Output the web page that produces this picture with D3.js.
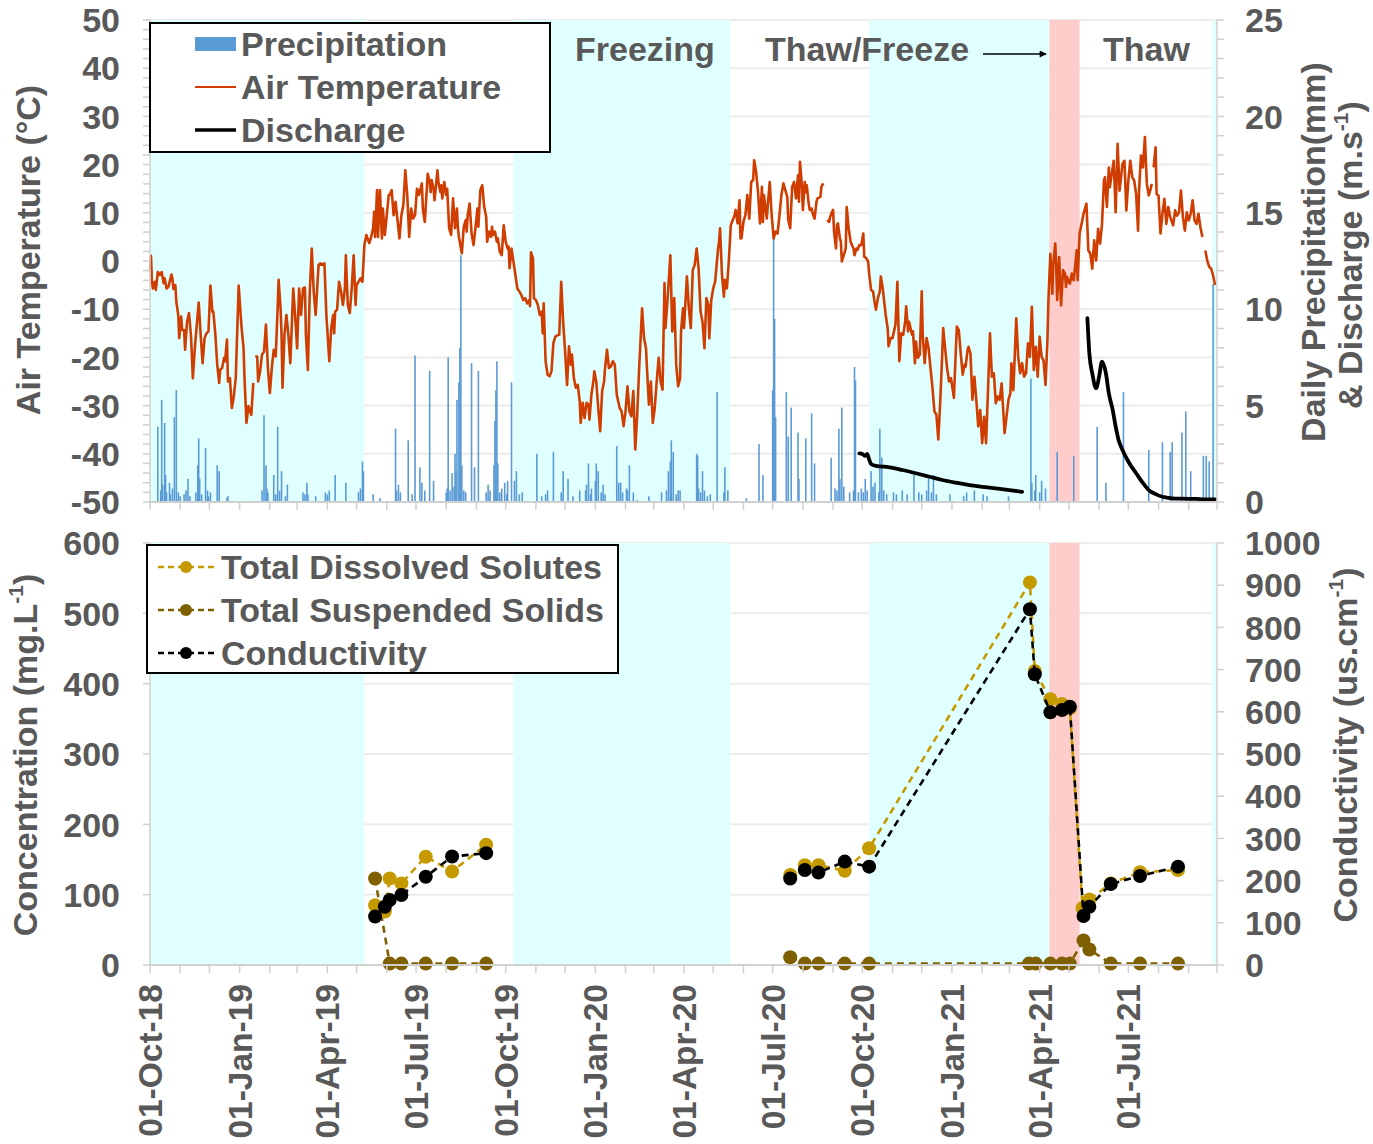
<!DOCTYPE html>
<html>
<head>
<meta charset="utf-8">
<script src="https://cdn.jsdelivr.net/npm/d3@7"></script>
<style>
  body { margin: 0; background: #ffffff; }
  svg text { font-family: "Liberation Sans", Arial, sans-serif; font-weight: bold; fill: #595959; }
</style>
</head>
<body>
<svg id="chart" width="1373" height="1144"></svg>
<script>
// ---- time frame (day offsets are counted from startDate) ----
const startDate = "2018-10-01";
const endDate = "2021-09-30";

// seasonal phases shaded behind both panels
const seasonBands = [
  { from: "2018-10-01", to: "2019-05-09", phase: "freezing" },
  { from: "2019-10-09", to: "2020-05-18", phase: "freezing" },
  { from: "2020-10-08", to: "2021-04-11", phase: "freezing" },
  { from: "2021-04-11", to: "2021-05-12", phase: "transition" },
  { from: "2021-09-25", to: "2021-09-30", phase: "freezing" }
];

// daily air temperature (°C): [day, value]; null marks a logger gap
const airTemperature = [
[0,-2.2],[1,1.1],[2,-4.3],[3,-5.7],[5,-4.3],[6,-6.0],[8,-2.3],[10,-2.9],[12,-2.3],[14,-4.6],[15,-3.6],[17,-5.7],[19,-5.3],[22,-2.8],[23,-3.6],[24,-5.8],[26,-5.0],[27,-8.4],[29,-11.2],[30,-16.0],[32,-11.5],[33,-14.3],[35,-14.3],[36,-18.4],[38,-12.6],[40,-10.8],[42,-15.3],[44,-24.3],[46,-18.1],[50,-8.6],[52,-15.3],[54,-21.2],[56,-16.0],[58,-15.0],[60,-14.6],[62,-5.1],[64,-10.5],[65,-10.5],[67,-15.0],[69,-21.5],[71,-25.3],[72,-22.6],[74,-22.2],[76,-20.1],[77,-20.8],[79,-16.3],[80,-25.0],[82,-24.3],[84,-30.5],[86,-28.1],[88,-24.3],[91,-5.1],[94,-13.9],[96,-18.1],[97,-24.3],[99,-33.6],[101,-30.1],[104,-31.9],[106,-25.3],[107,null],[108,-19.8],[110,-19.8],[111,-25.0],[113,-22.9],[115,-19.4],[117,-18.8],[119,-13.2],[121,-22.2],[123,-27.4],[125,-22.2],[127,-18.4],[129,-19.8],[131,-9.8],[132,-3.9],[134,-9.8],[135,-15.3],[136,-26.3],[138,-15.3],[140,-11.2],[142,-15.3],[144,-21.2],[147,-5.7],[149,-11.5],[151,-18.1],[153,-5.7],[155,-11.2],[157,-5.7],[159,-5.5],[160,-15.3],[162,-22.6],[164,-6.3],[166,2.6],[168,-6.3],[170,-11.2],[173,-0.8],[175,-0.5],[177,-0.8],[179,-0.5],[181,-11.2],[184,-20.8],[186,-13.9],[188,-11.2],[189,-15.0],[190,-10.5],[192,-10.1],[194,-4.3],[196,-6.3],[198,-9.1],[200,-5.7],[201,1.2],[203,-9.1],[205,-10.8],[207,-5.7],[209,1.2],[211,-9.1],[212,-5.0],[214,-4.3],[216,-3.6],[218,-4.3],[220,3.3],[222,5.4],[225,3.7],[227,5.0],[229,6.8],[230,10.2],[231,5.0],[233,14.7],[234,5.0],[236,14.7],[238,4.7],[239,10.9],[241,5.4],[243,9.5],[245,13.7],[246,13.7],[248,14.7],[250,9.5],[252,12.3],[254,8.5],[256,4.7],[258,9.5],[260,11.6],[262,18.8],[264,13.7],[266,5.0],[268,10.9],[270,8.8],[272,9.5],[274,15.0],[276,13.7],[279,16.1],[280,10.9],
[282,8.1],[285,18.1],[287,16.4],[288,14.3],[289,16.8],[291,15.0],[292,12.6],[295,18.8],[296,16.4],[298,14.3],[299,15.7],[300,13.0],[302,16.4],[304,13.7],[305,15.0],[307,6.8],[309,5.4],[311,13.0],[313,6.8],[315,10.9],[316,6.8],[317,5.0],[320,1.6],[322,7.1],[324,8.5],[325,6.1],[326,9.5],[328,11.9],[330,5.7],[332,3.3],[334,6.8],[336,10.9],[337,7.1],[339,14.7],[341,15.7],[343,11.2],[345,9.2],[346,4.0],[348,6.1],[350,5.0],[351,7.1],[352,5.4],[354,6.1],[356,4.0],[357,4.7],[359,1.9],[361,1.2],[363,7.4],[365,4.0],[367,2.6],[368,3.0],[369,-1.5],[371,2.6],[373,-0.1],[375,-2.9],[377,-5.7],[379,-6.3],[381,-7.0],[383,-8.1],[385,-7.7],[387,-8.8],[389,-8.1],[390,-9.4],[391,1.8],[393,0.6],[394,-7.7],[396,-8.1],[398,-9.1],[400,-11.2],[402,-10.5],[403,-15.0],[404,-8.8],[406,-20.8],[408,-23.6],[410,-23.9],[412,-22.9],[414,-17.0],[416,-15.7],[419,-15.3],[420,-15.3],[422,-4.3],[424,-12.6],[426,-18.8],[428,-25.7],[430,-17.7],[432,-21.5],[433,-19.4],[435,-24.3],[437,-26.3],[439,-25.7],[441,-29.1],[442,-33.6],[444,-29.4],[446,-32.6],[448,-29.4],[450,-29.8],[451,-32.9],[453,-27.7],[455,-25.0],[456,-22.9],[458,-25.0],[460,-30.5],[462,-35.3],[464,-27.0],[466,-25.0],[467,-22.2],[469,-18.4],[471,-22.2],[473,-21.9],[475,-20.8],[477,-21.5],[479,-27.7],[482,-30.5],[484,-31.2],[486,-34.3],[488,-31.2],[490,-26.0],[492,-31.2],[494,-32.2],[496,-27.0],[498,-39.1],[500,-31.9],[502,-22.2],[505,-9.8],[507,-16.0],[509,-18.1],[510,-22.2],[512,-29.8],[514,-25.0],[516,-33.6],[518,-30.5],[520,-25.0],[522,-20.1],[524,-25.0],[526,-26.7],[528,-4.6],[529,-13.9],[531,-8.4],[534,1.2],[536,-14.6],[538,-7.7],[540,-21.5],[542,-26.0],[544,-24.3],[545,-14.6],[547,-9.8],[548,-13.9],[551,-3.2],[553,-9.8],[555,-13.9],[557,-1.9],[559,-0.8],
[561,2.6],[563,-1.5],[565,-10.5],[567,-12.6],[569,-18.1],[571,-7.7],[573,-9.1],[574,-16.0],[576,-8.1],[578,-5.7],[580,-4.3],[581,-1.9],[583,2.6],[584,4.0],[585,6.8],[587,-2.9],[589,-7.4],[590,-3.9],[592,-5.7],[594,-0.1],[596,7.4],[598,8.5],[600,9.5],[601,10.6],[603,7.8],[605,12.6],[606,4.7],[607,4.7],[609,8.1],[611,9.5],[613,13.7],[615,8.8],[617,16.4],[619,16.8],[620,20.9],[622,18.5],[624,14.3],[626,7.8],[628,15.4],[629,8.1],[630,13.7],[633,8.8],[634,11.6],[636,16.4],[638,9.5],[640,4.7],[642,6.1],[644,5.7],[646,9.5],[648,13.7],[650,16.1],[652,14.7],[654,13.3],[655,8.5],[657,6.8],[659,15.4],[661,16.4],[663,13.0],[665,17.8],[666,12.3],[667,20.6],[669,15.7],[670,10.6],[672,16.4],[673,14.3],[674,15.7],[676,11.9],[677,10.6],[679,10.9],[680,9.9],[682,8.8],[684,12.3],[685,13.0],[688,13.3],[689,15.4],[691,16.1],[693,null],[695,8.5],[697,8.1],[698,9.2],[700,10.2],[701,10.6],[702,6.1],[704,2.6],[705,7.4],[706,7.8],[708,4.7],[709,4.0],[710,-0.1],[713,1.9],[714,2.6],[715,11.2],[717,6.8],[719,4.0],[721,3.0],[722,2.6],[723,1.2],[725,2.6],[726,2.3],[728,3.3],[730,3.3],[732,5.7],[733,0.9],[735,0.6],[737,-0.1],[738,-2.6],[740,-6.0],[742,-6.3],[744,-9.1],[745,-10.1],[747,-7.7],[749,-6.3],[750,-3.2],[752,-5.7],[754,-9.4],[755,-11.2],[757,-13.9],[758,-17.7],[760,-16.0],[762,-16.0],[765,-13.2],[767,-4.3],[769,-20.8],[771,-15.0],[773,-15.3],[775,-12.6],[776,-9.4],[778,-14.6],[779,-12.6],[782,-15.3],[783,-14.6],[785,-21.2],[786,-16.7],[788,-20.1],[790,-19.4],[792,-6.3],[793,-15.3],[795,-21.2],[797,-16.0],[799,-18.1],[801,-22.2],[803,-26.3],[805,-31.2],[807,-31.9],[809,-37.0],[811,-29.1],[813,-19.4],[814,-13.9],[816,-18.1],[818,-22.2],[820,-25.0],[822,-24.3],[825,-28.4],[827,-18.4],[828,-13.6],[830,-14.3],[832,-19.1],[834,-23.6],[836,-21.5],
[837,-21.9],[839,-18.5],[840,-17.8],[842,-19.2],[844,-28.8],[846,-24.0],[848,-28.8],[850,-34.3],[852,-30.9],[854,-37.8],[856,-32.3],[858,-37.8],[860,-26.8],[862,-15.0],[864,-24.0],[866,-23.3],[868,-29.5],[870,-28.1],[872,-28.8],[874,-25.4],[877,-35.7],[879,-32.3],[881,-28.8],[883,-27.4],[884,-21.2],[886,-26.8],[889,-11.9],[891,-19.9],[893,-23.3],[895,-21.2],[897,-24.0],[899,-23.3],[901,-17.1],[903,-19.9],[905,-9.5],[907,-22.6],[909,-17.8],[911,-24.0],[913,-15.7],[915,-19.9],[917,-20.6],[919,-25.7],[921,-16.4],[922,-8.1],[924,1.5],[926,-6.8],[927,-0.6],[929,3.6],[930,-1.2],[931,-8.1],[933,0.8],[935,-9.2],[937,-1.9],[939,-2.6],[940,-5.4],[941,-3.3],[944,-4.7],[946,-2.6],[948,-4.0],[949,-1.9],[951,2.2],[952,-4.0],[954,5.7],[956,7.7],[958,9.8],[961,11.9],[963,2.2],[965,1.5],[967,-1.6],[969,4.3],[971,0.1],[973,6.7],[975,3.6],[977,7.7],[979,16.7],[980,17.4],[982,11.2],[984,19.4],[985,15.3],[987,18.1],[989,20.8],[991,10.1],[993,24.3],[995,14.6],[998,20.1],[1000,20.8],[1002,10.5],[1004,16.7],[1006,20.8],[1008,17.4],[1010,16.7],[1012,13.9],[1014,6.3],[1015,14.6],[1017,21.9],[1019,19.4],[1021,25.7],[1023,16.0],[1025,13.6],[1027,15.0],[1028,16.0],[1029,null],[1030,19.4],[1032,23.6],[1033,13.9],[1035,13.6],[1037,5.7],[1039,9.8],[1041,12.9],[1043,7.7],[1045,11.2],[1047,9.1],[1050,7.4],[1052,10.5],[1054,9.4],[1056,10.1],[1058,14.6],[1060,9.1],[1062,6.3],[1064,10.1],[1066,8.4],[1068,9.8],[1070,12.6],[1072,8.4],[1074,7.7],[1076,9.8],[1078,7.0],[1080,5.0],[1082,null],[1083,2.2],[1085,0.1],[1087,-1.2],[1089,-1.6],[1091,-3.0],[1093,-5.0]
];

// daily precipitation (mm): [day, value]
const precipitation = [
[8,3.9],[12,5.3],[15,4.1],[16,1.4],[20,1.0],[25,4.4],[27,5.8],[29,0.5],[39,1.2],[49,1.9],[50,3.3],[51,1.2],[57,2.8],[59,0.6],[69,1.9],[71,1.6],[79,0.2],[117,4.5],[119,1.9],[120,0.7],[127,1.4],[131,3.9],[135,1.6],[141,0.9],[161,1.0],[162,0.4],[180,0.5],[190,1.4],[201,1.0],[218,2.1],[219,1.6],[236,0.2],[252,3.8],[255,0.9],[265,3.2],[272,7.6],[277,1.8],[279,1.0],[287,6.8],[291,1.1],[305,0.7],[306,7.5],[310,1.5],[313,2.5],[314,1.6],[315,5.3],[317,6.2],[318,8.0],[319,12.8],[320,1.9],[330,7.2],[333,1.8],[337,6.8],[347,0.9],[353,1.9],[354,4.2],[355,5.8],[356,7.3],[357,2.0],[364,1.0],[367,1.1],[371,6.2],[374,1.1],[376,1.6],[397,2.5],[408,0.6],[414,2.6],[424,1.6],[429,1.2],[441,0.6],[448,0.9],[450,2.0],[457,1.1],[458,2.0],[460,1.6],[465,0.9],[479,2.9],[481,1.0],[483,1.0],[489,0.7],[492,1.9],[500,0.1],[525,0.5],[532,1.6],[534,2.1],[535,3.2],[537,2.6],[544,0.6],[561,2.5],[562,2.4],[567,1.6],[572,0.3],[582,5.7],[590,1.8],[612,0.2],[625,3.0],[629,1.4],[639,5.8],[640,13.8],[641,9.5],[642,4.4],[653,5.7],[655,3.4],[658,4.9],[665,3.6],[666,1.2],[673,3.3],[679,4.6],[682,2.0],[699,2.3],[707,3.8],[708,1.2],[710,4.9],[723,7.0],[724,6.3],[727,0.5],[734,1.2],[740,1.6],[744,1.0],[749,3.8],[751,2.3],[784,1.4],[799,1.4],[804,1.4],[846,0.6],[904,6.4],[905,1.0],[909,1.4],[915,1.1],[931,2.6],[948,2.4],[972,3.9],[981,1.0],[999,5.7],[1025,2.7],[1039,3.1],[1047,2.6],[1049,3.1],[1059,3.6],[1063,4.7],[1068,1.6],[1081,2.4],[1084,2.4],[1087,2.1],[1091,11.3],
// light-rain days
[11,0.6],[13,0.9],[17,0.5],[21,0.4],[23,0.7],[31,0.3],[35,0.4],[37,0.6],[41,0.3],[47,0.5],[53,0.4],[60,0.3],[62,0.5],[80,0.3],[115,0.6],[121,0.5],[129,0.4],[133,0.6],[139,0.3],[157,0.5],[159,0.4],[170,0.3],[182,0.4],[184,0.6],[214,0.5],[216,0.7],[229,0.4],[253,0.6],[257,0.5],[269,0.4],[282,0.6],[304,0.5],[308,0.6],[312,0.8],[322,0.6],[324,0.5],[345,0.5],[349,0.6],[359,0.5],[361,0.7],[366,0.4],[379,0.4],[382,0.5],[402,0.3],[406,0.4],[422,0.5],[434,0.3],[447,0.6],[452,0.4],[453,0.7],[463,0.5],[467,0.4],[485,0.5],[490,0.6],[496,0.5],[512,0.3],[530,0.6],[540,0.4],[542,0.6],[563,0.7],[565,0.5],[569,0.6],[575,0.4],[589,0.5],[593,0.6],[703,0.7],[705,0.6],[712,0.8],[718,0.5],[722,0.6],[730,0.7],[732,0.5],[736,0.6],[742,0.8],[748,0.5],[753,0.6],[756,0.4],[763,0.5],[766,0.4],[772,0.6],[777,0.4],[789,0.5],[792,0.4],[797,0.6],[802,0.5],[807,0.4],[821,0.4],[835,0.3],[838,0.5],[855,0.4],[859,0.3],[881,0.3],[908,0.6],[913,0.5],[919,0.7]
];

// stream discharge: [day, value]; null separates the two gauged periods
const discharge = [
[728,2.52],[731,2.49],[734,2.39],[736,2.49],[738,2.21],[740,1.97],[745,1.87],[759,1.80],[772,1.66],[786,1.49],[800,1.31],[813,1.14],[827,1.00],[841,0.88],[854,0.79],[868,0.71],[882,0.62],[895,0.53],
[930,null],
[962,9.53],[964,7.71],[967,6.67],[971,5.90],[974,6.50],[977,7.28],[981,6.67],[984,5.64],[988,4.77],[991,3.91],[994,3.22],[998,2.70],[1005,2.01],[1012,1.49],[1018,1.05],[1025,0.62],[1032,0.41],[1039,0.27],[1049,0.19],[1059,0.17],[1073,0.16],[1084,0.14],[1093,0.14]
];

// water samples: [day, value]; null separates the 2019 and 2020-21 campaigns
const totalDissolvedSolutes = [
[231,85],[241,76],[246,123],[258,116],[283,154],[310,133],[345,171],[500,null],
[657,128],[672,142],[686,142],[713,134],[738,166],[903,544],[908,418],[924,378],[936,371],[944,365],[957,81],[964,93],[986,116],[1016,132],[1055,135]
];
const totalSuspendedSolids = [
[231,123],[246,2],[258,2],[283,2],[310,2],[345,2],[500,null],
[657,11],[672,2],[686,2],[713,2],[738,2],[902,2],[909,2],[924,2],[936,2],[944,2],[958,35],[964,22],[986,2],[1016,2],[1055,2]
];
const conductivity = [
[231,115],[241,138],[246,154],[258,166],[283,209],[310,257],[345,265],[500,null],
[657,205],[672,225],[686,219],[713,245],[738,233],[903,843],[908,689],[924,599],[936,604],[944,612],[958,116],[964,138],[986,192],[1016,211],[1055,233]
];

// axis ticks
const tempTicks = [-50, -40, -30, -20, -10, 0, 10, 20, 30, 40, 50];
const precipTicks = [0, 5, 10, 15, 20, 25];
const concTicks = [0, 100, 200, 300, 400, 500, 600];
const condTicks = [0, 100, 200, 300, 400, 500, 600, 700, 800, 900, 1000];

// ---------------------------------------------------------------------
const parse = d3.utcParse("%Y-%m-%d");
const t0 = parse(startDate);
const toDate = d => d3.utcDay.offset(t0, d);
const FS = 34;

const COLORS = {
  text: "#595959", grid: "#ececec", axis: "#d0d0d0",
  freezing: "#e0ffff", transition: "#ffcccc",
  precip: "#5b9bd5", temp: "#cf3d00", discharge: "#000000",
  tds: "#c49a00", tss: "#7f6000", cond: "#000000"
};

const svg = d3.select("#chart");
const x = d3.scaleUtc().domain([parse(startDate), parse(endDate)]).range([150, 1217]);
const yTemp = d3.scaleLinear().domain([-50, 50]).range([502, 20]);
const yPrecip = d3.scaleLinear().domain([0, 25]).range([502, 20]);
const yConc = d3.scaleLinear().domain([0, 600]).range([965, 543]);
const yCond = d3.scaleLinear().domain([0, 1000]).range([965, 543]);

const [xL, xR] = x.range();

function panelBackground(g, yScale, ticks) {
  // horizontal grid first, the season shading sits over it
  g.append("g").selectAll("line").data(ticks.slice(1)).join("line")
    .attr("x1", xL).attr("x2", xR)
    .attr("y1", d => yScale(d)).attr("y2", d => yScale(d))
    .attr("stroke", COLORS.grid).attr("stroke-width", 2);
  const [yb, yt] = yScale.range();
  g.append("g").selectAll("rect").data(seasonBands).join("rect")
    .attr("x", d => x(parse(d.from)))
    .attr("width", d => x(parse(d.to)) - x(parse(d.from)))
    .attr("y", yt).attr("height", yb - yt)
    .attr("fill", d => COLORS[d.phase]);
}

function timeAxis(g, yPos) {
  const months = d3.utcMonth.range(parse(startDate), d3.utcDay.offset(parse(endDate), 1));
  g.append("line").attr("x1", xL).attr("x2", xR).attr("y1", yPos).attr("y2", yPos)
    .attr("stroke", COLORS.axis).attr("stroke-width", 2);
  g.append("g").selectAll("line").data(months.concat([parse(endDate)])).join("line")
    .attr("x1", d => x(d)).attr("x2", d => x(d))
    .attr("y1", yPos).attr("y2", yPos + 8)
    .attr("stroke", COLORS.axis).attr("stroke-width", 1.5);
}

function valueAxis(g, scale, ticks, xPos, side, minorStep) {
  const [yb, yt] = scale.range();
  const dir = side === "left" ? -1 : 1;
  g.append("line").attr("x1", xPos).attr("x2", xPos).attr("y1", yb).attr("y2", yt)
    .attr("stroke", COLORS.axis).attr("stroke-width", 1.5);
  const d0 = scale.domain()[0], d1 = scale.domain()[1];
  const minors = d3.range(d0, d1 + minorStep / 2, minorStep);
  g.append("g").selectAll("line").data(minors).join("line")
    .attr("x1", xPos).attr("x2", xPos + dir * 7)
    .attr("y1", d => scale(d)).attr("y2", d => scale(d))
    .attr("stroke", COLORS.axis).attr("stroke-width", 1.5);
  g.append("g").selectAll("text").data(ticks).join("text")
    .attr("x", side === "left" ? xPos - 30 : xPos + 28)
    .attr("y", d => scale(d)).attr("dy", "0.36em")
    .attr("text-anchor", side === "left" ? "end" : "start")
    .attr("font-size", FS)
    .text(d => d);
}

function rotatedTitle(g, cx, cy, parts) {
  const t = g.append("text")
    .attr("transform", `translate(${cx},${cy}) rotate(-90)`)
    .attr("text-anchor", "middle").attr("dy", "0.36em")
    .attr("font-size", FS);
  parts.forEach(p => {
    const s = t.append("tspan").text(p.text);
    if (p.sup) s.attr("font-size", 21).attr("dy", -14);
    if (p.after) s.attr("dy", 14);
  });
}

// ========================= top panel =========================
const topG = svg.append("g");
panelBackground(topG, yTemp, tempTicks);

const barW = 1.6;
topG.append("g").selectAll("rect").data(precipitation).join("rect")
  .attr("x", d => x(toDate(d[0])) - barW / 2).attr("width", barW)
  .attr("y", d => yPrecip(d[1])).attr("height", d => yPrecip(0) - yPrecip(d[1]))
  .attr("fill", COLORS.precip);

const tempLine = d3.line().defined(d => d[1] !== null)
  .x(d => x(toDate(d[0]))).y(d => yTemp(d[1]));
topG.append("path").datum(airTemperature).attr("d", tempLine)
  .attr("fill", "none").attr("stroke", COLORS.temp).attr("stroke-width", 2.6)
  .attr("stroke-linejoin", "round");

const qLine = d3.line().defined(d => d[1] !== null).curve(d3.curveMonotoneX)
  .x(d => x(toDate(d[0]))).y(d => yPrecip(d[1]));
topG.append("path").datum(discharge).attr("d", qLine)
  .attr("fill", "none").attr("stroke", COLORS.discharge).attr("stroke-width", 3.8)
  .attr("stroke-linecap", "round");

timeAxis(topG, 502);
valueAxis(topG, yTemp, tempTicks, xL, "left", 2);
valueAxis(topG, yPrecip, precipTicks, xR, "right", 1);

rotatedTitle(topG, 28, 250, [{ text: "Air Temperature (°C)" }]);
rotatedTitle(topG, 1313, 252, [{ text: "Daily Precipitation(mm)" }]);
rotatedTitle(topG, 1350, 255, [{ text: "& Discharge (m.s" }, { text: "-1", sup: true }, { text: ")", after: true }]);

// phase labels
const phaseLabels = [
  { text: "Freezing", x: 575 },
  { text: "Thaw/Freeze", x: 765 },
  { text: "Thaw", x: 1103 }
];
topG.append("g").selectAll("text").data(phaseLabels).join("text")
  .attr("x", d => d.x).attr("y", 61).attr("font-size", FS).text(d => d.text);
svg.append("defs").append("marker").attr("id", "arrowhead")
  .attr("viewBox", "0 0 10 10").attr("refX", 9).attr("refY", 5)
  .attr("markerWidth", 9).attr("markerHeight", 7).attr("markerUnits", "userSpaceOnUse")
  .attr("orient", "auto").append("path").attr("d", "M0,0 L10,5 L0,10 Z").attr("fill", "#000");
topG.append("line").attr("x1", 983).attr("x2", 1046).attr("y1", 54).attr("y2", 54)
  .attr("stroke", "#000").attr("stroke-width", 1.3).attr("marker-end", "url(#arrowhead)");

// legend
const lg = topG.append("g");
lg.append("rect").attr("x", 150).attr("y", 23).attr("width", 400).attr("height", 129)
  .attr("fill", "#fff").attr("stroke", "#000").attr("stroke-width", 2);
lg.append("rect").attr("x", 195).attr("y", 37).attr("width", 41).attr("height", 14).attr("fill", COLORS.precip);
lg.append("line").attr("x1", 195).attr("x2", 236).attr("y1", 87).attr("y2", 87).attr("stroke", COLORS.temp).attr("stroke-width", 2);
lg.append("line").attr("x1", 195).attr("x2", 236).attr("y1", 130).attr("y2", 130).attr("stroke", "#000").attr("stroke-width", 3.6);
lg.selectAll("text.item").data(["Precipitation", "Air Temperature", "Discharge"]).join("text")
  .attr("x", 241).attr("y", (d, i) => 56 + i * 43).attr("font-size", FS).text(d => d);

// ========================= bottom panel =========================
const botG = svg.append("g");
panelBackground(botG, yConc, concTicks);

function sampleSeries(data, yScale, color) {
  const line = d3.line().defined(d => d[1] !== null)
    .x(d => x(toDate(d[0]))).y(d => yScale(d[1]));
  botG.append("path").datum(data).attr("d", line)
    .attr("fill", "none").attr("stroke", color).attr("stroke-width", 2.6)
    .attr("stroke-dasharray", "7,5");
  botG.append("g").selectAll("circle").data(data.filter(d => d[1] !== null)).join("circle")
    .attr("cx", d => x(toDate(d[0]))).attr("cy", d => yScale(d[1])).attr("r", 7)
    .attr("fill", color);
}
sampleSeries(totalSuspendedSolids, yConc, COLORS.tss);
sampleSeries(totalDissolvedSolutes, yConc, COLORS.tds);
sampleSeries(conductivity, yCond, COLORS.cond);

timeAxis(botG, 965);
valueAxis(botG, yConc, concTicks, xL, "left", 100);
valueAxis(botG, yCond, condTicks, xR, "right", 100);

// date labels every three months
const quarterTicks = d3.utcMonth.every(3).range(parse(startDate), parse(endDate));
botG.append("g").selectAll("text").data(quarterTicks).join("text")
  .attr("transform", d => `translate(${x(d)},984) rotate(-90)`)
  .attr("text-anchor", "end").attr("dy", "0.36em").attr("font-size", 33.5)
  .text(d3.utcFormat("%d-%b-%y"));

rotatedTitle(botG, 25, 755, [{ text: "Concentration (mg.L" }, { text: "-1", sup: true }, { text: ")", after: true }]);
rotatedTitle(botG, 1345, 745, [{ text: "Conductivity (us.cm" }, { text: "-1", sup: true }, { text: ")", after: true }]);

// legend
const lg2 = botG.append("g");
lg2.append("rect").attr("x", 147).attr("y", 545).attr("width", 471).attr("height", 128)
  .attr("fill", "#fff").attr("stroke", "#000").attr("stroke-width", 2);
const sampleLegend = [
  { name: "Total Dissolved Solutes", color: COLORS.tds },
  { name: "Total Suspended Solids", color: COLORS.tss },
  { name: "Conductivity", color: COLORS.cond }
];
sampleLegend.forEach((s, i) => {
  const cy = 567 + i * 43;
  lg2.append("line").attr("x1", 158).attr("x2", 215).attr("y1", cy).attr("y2", cy)
    .attr("stroke", s.color).attr("stroke-width", 2.4).attr("stroke-dasharray", "6,4");
  lg2.append("circle").attr("cx", 186).attr("cy", cy).attr("r", 6).attr("fill", s.color);
  lg2.append("text").attr("x", 221).attr("y", cy).attr("dy", "0.36em").attr("font-size", FS).text(s.name);
});
</script>
</body>
</html>
